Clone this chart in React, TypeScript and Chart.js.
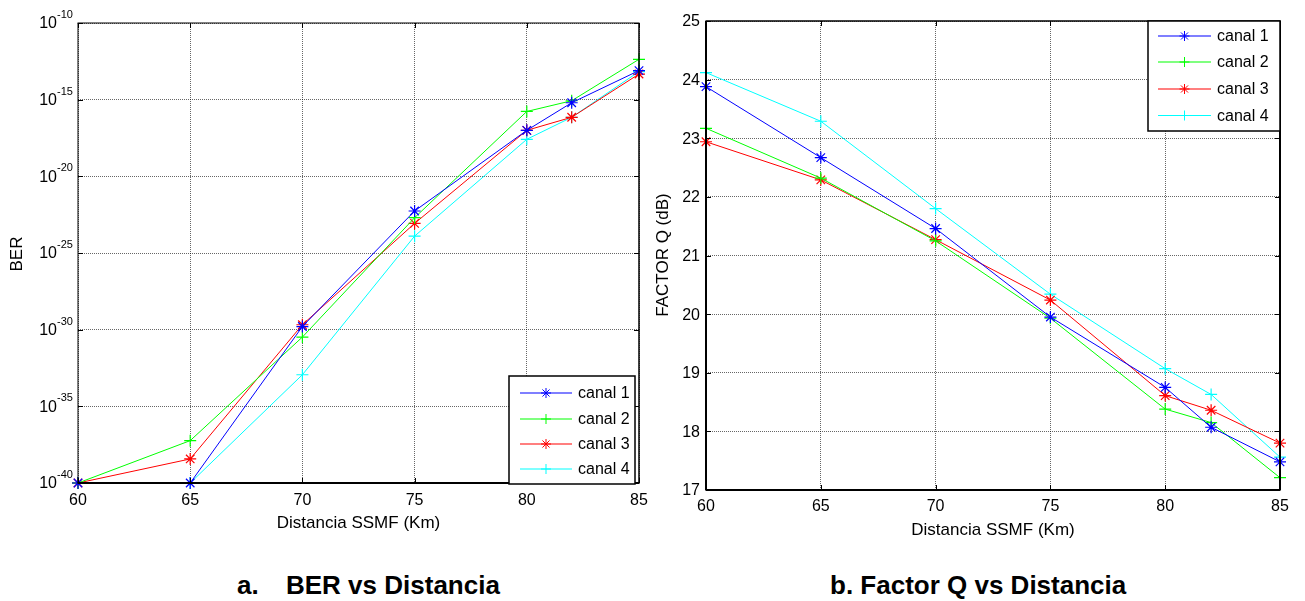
import React, { useEffect, useRef } from "react";
import { Chart, registerables } from "chart.js";

Chart.register(...registerables);

// ---------- data ----------
const DIST = [60, 65, 70, 75, 80, 82, 85];
const X_TICKS = [60, 65, 70, 75, 80, 85];
const CHANNELS = ["canal 1", "canal 2", "canal 3", "canal 4"];
const COLORS = ["#0000ff", "#00ff00", "#ff0000", "#00ffff"];
const MARKERS = ["star", "cross", "star", "cross"];

const BER_C1 = [1e-40, 1e-40, 1.6e-30, 5.5e-23, 1.0e-17, 6.3e-16, 7.9e-14];
const BER_C2 = [1e-40, 5.8e-38, 3.3e-31, 2.0e-23, 1.7e-16, 8.5e-16, 4.3e-13];
const BER_C3 = [1e-40, 3.7e-39, 2.1e-30, 8.5e-24, 1.0e-17, 7.1e-17, 4.7e-14];
const BER_C4 = [1e-40, 1e-40, 1.15e-33, 1.26e-24, 2.6e-18, 7.1e-17, 6.8e-14];
const BER_TICKS = [1e-40, 1e-35, 1e-30, 1e-25, 1e-20, 1e-15, 1e-10];
const BER_TICK_EXP = ["-40", "-35", "-30", "-25", "-20", "-15", "-10"];

const Q_C1 = [23.88, 22.67, 21.46, 19.95, 18.75, 18.07, 17.48];
const Q_C2 = [23.17, 22.32, 21.25, 19.93, 18.38, 18.15, 17.21];
const Q_C3 = [22.94, 22.29, 21.27, 20.24, 18.61, 18.36, 17.8];
const Q_C4 = [24.12, 23.29, 21.8, 20.34, 19.07, 18.63, 17.56];
const Q_TICKS = [17, 18, 19, 20, 21, 22, 23, 24, 25];

const FONT = '"Liberation Sans", Arial, sans-serif';
const GRID = "rgba(0,0,0,0.6)";

type Spec = {
  w: number;
  h: number;
  area: { l: number; t: number; r: number; b: number };
  series: number[][];
  yType: "logarithmic" | "linear";
  yMin: number;
  yMax: number;
  yTicks: number[];
  yTickDraw: (ctx: CanvasRenderingContext2D, v: number, i: number, y: number, l: number) => void;
  yLabel: string;
  yLabelX: number;
  yLabelY: number;
  xTickY: number;
  xLabelY: number;
  legend: { x1: number; y1: number; x2: number; y2: number; rows: number[]; lx1: number; lx2: number; tx: number };
  bw: { top: number; bottom: number; left: number; right: number };
};

function drawMarker(ctx: CanvasRenderingContext2D, kind: string, x: number, y: number, r: number) {
  ctx.beginPath();
  ctx.moveTo(x - r, y);
  ctx.lineTo(x + r, y);
  ctx.moveTo(x, y - r);
  ctx.lineTo(x, y + r);
  if (kind === "star") {
    const d = r * 0.7071;
    ctx.moveTo(x - d, y - d);
    ctx.lineTo(x + d, y + d);
    ctx.moveTo(x - d, y + d);
    ctx.lineTo(x + d, y - d);
  }
  ctx.stroke();
}

function build(canvas: HTMLCanvasElement, s: Spec) {
  const decor = {
    id: "matlabDecor",
    afterDraw(chart: any) {
      const ctx: CanvasRenderingContext2D = chart.ctx;
      const a = chart.chartArea;
      const xS = chart.scales.x;
      const yS = chart.scales.y;
      ctx.save();
      // inward ticks
      ctx.strokeStyle = "#000";
      ctx.lineWidth = 1;
      ctx.beginPath();
      X_TICKS.forEach((v) => {
        const x = Math.round(xS.getPixelForValue(v)) + 0.5;
        ctx.moveTo(x, a.bottom);
        ctx.lineTo(x, a.bottom - 5);
        ctx.moveTo(x, a.top);
        ctx.lineTo(x, a.top + 5);
      });
      s.yTicks.forEach((v) => {
        const y = Math.round(yS.getPixelForValue(v)) + 0.5;
        ctx.moveTo(a.left, y);
        ctx.lineTo(a.left + 5, y);
        ctx.moveTo(a.right, y);
        ctx.lineTo(a.right - 5, y);
      });
      ctx.stroke();
      // box
      const seg = (x1: number, y1: number, x2: number, y2: number, w: number) => {
        ctx.lineWidth = w;
        ctx.beginPath();
        ctx.moveTo(x1, y1);
        ctx.lineTo(x2, y2);
        ctx.stroke();
      };
      seg(a.left - 0.5, a.top, a.right + 0.5, a.top, s.bw.top);
      seg(a.left - 0.5, a.bottom, a.right + 0.5, a.bottom, s.bw.bottom);
      seg(a.left, a.top, a.left, a.bottom, s.bw.left);
      seg(a.right, a.top, a.right, a.bottom, s.bw.right);

      // tick labels
      ctx.fillStyle = "#000";
      ctx.font = `16px ${FONT}`;
      ctx.textAlign = "center";
      ctx.textBaseline = "middle";
      X_TICKS.forEach((v) => {
        ctx.fillText(String(v), xS.getPixelForValue(v), s.xTickY);
      });
      s.yTicks.forEach((v, i) => s.yTickDraw(ctx, v, i, yS.getPixelForValue(v), a.left));

      // axis titles
      ctx.font = `17px ${FONT}`;
      ctx.textAlign = "center";
      ctx.textBaseline = "middle";
      ctx.fillText("Distancia SSMF (Km)", (a.left + a.right) / 2, s.xLabelY);
      ctx.save();
      ctx.translate(s.yLabelX, s.yLabelY);
      ctx.rotate(-Math.PI / 2);
      ctx.fillText(s.yLabel, 0, 0);
      ctx.restore();

      // legend
      const L = s.legend;
      ctx.fillStyle = "#fff";
      ctx.fillRect(L.x1, L.y1, L.x2 - L.x1, L.y2 - L.y1);
      ctx.strokeStyle = "#000";
      ctx.lineWidth = 1.5;
      ctx.strokeRect(L.x1, L.y1, L.x2 - L.x1, L.y2 - L.y1);
      ctx.font = `16px ${FONT}`;
      ctx.textAlign = "left";
      ctx.textBaseline = "middle";
      CHANNELS.forEach((name, i) => {
        const y = L.rows[i];
        ctx.strokeStyle = COLORS[i];
        ctx.lineWidth = 1.2;
        ctx.beginPath();
        ctx.moveTo(L.lx1, y);
        ctx.lineTo(L.lx2, y);
        ctx.stroke();
        ctx.lineWidth = 1;
        drawMarker(ctx, MARKERS[i], (L.lx1 + L.lx2) / 2, y, 5);
        ctx.fillStyle = "#000";
        ctx.fillText(name, L.tx, y + 1);
      });
      ctx.restore();
    },
  };

  return new Chart(canvas, {
    type: "line",
    data: {
      datasets: s.series.map((vals, i) => ({
        label: CHANNELS[i],
        data: DIST.map((x, j) => ({ x, y: vals[j] })),
        borderColor: COLORS[i],
        backgroundColor: COLORS[i],
        pointBorderColor: COLORS[i],
        pointStyle: MARKERS[i] as any,
        pointRadius: 6,
        pointBorderWidth: 1.2,
        borderWidth: 1,
        tension: 0,
        clip: false as any,
      })),
    },
    options: {
      animation: false,
      responsive: false,
      devicePixelRatio: 1,
      layout: { padding: { left: 0, top: s.area.t, right: s.w - s.area.r, bottom: 0 } },
      plugins: { legend: { display: false }, tooltip: { enabled: false } },
      scales: {
        x: {
          type: "linear",
          min: 60,
          max: 85,
          afterBuildTicks: (sc: any) => {
            sc.ticks = X_TICKS.map((v) => ({ value: v }));
          },
          afterFit: (sc: any) => {
            sc.height = s.h - s.area.b;
          },
          ticks: { display: false },
          grid: { color: GRID, lineWidth: 1, drawTicks: false },
          border: { display: false, dash: [1, 1] },
        },
        y: {
          type: s.yType,
          min: s.yMin,
          max: s.yMax,
          afterBuildTicks: (sc: any) => {
            sc.ticks = s.yTicks.map((v) => ({ value: v }));
          },
          afterFit: (sc: any) => {
            sc.width = s.area.l;
          },
          ticks: { display: false },
          grid: { color: GRID, lineWidth: 1, drawTicks: false },
          border: { display: false, dash: [1, 1] },
        },
      } as any,
    },
    plugins: [decor],
  } as any);
}

const berTick = (ctx: CanvasRenderingContext2D, v: number, i: number, y: number, l: number) => {
  ctx.fillStyle = "#000";
  ctx.textBaseline = "middle";
  ctx.textAlign = "right";
  ctx.font = `16px ${FONT}`;
  ctx.fillText("10", l - 21, y + 1);
  ctx.textAlign = "left";
  ctx.font = `11px ${FONT}`;
  ctx.fillText(BER_TICK_EXP[i], l - 21, y - 8);
};

const qTick = (ctx: CanvasRenderingContext2D, v: number, i: number, y: number, l: number) => {
  ctx.fillStyle = "#000";
  ctx.textBaseline = "middle";
  ctx.textAlign = "right";
  ctx.font = `16px ${FONT}`;
  ctx.fillText(String(v), l - 6, y + 1);
};

export default function App() {
  const leftRef = useRef<HTMLCanvasElement>(null);
  const rightRef = useRef<HTMLCanvasElement>(null);

  useEffect(() => {
    const c1 = build(leftRef.current!, {
      w: 650,
      h: 545,
      area: { l: 78, t: 23, r: 639, b: 483 },
      series: [BER_C1, BER_C2, BER_C3, BER_C4],
      yType: "logarithmic",
      yMin: 1e-40,
      yMax: 1e-10,
      yTicks: BER_TICKS,
      yTickDraw: berTick,
      yLabel: "BER",
      yLabelX: 17.5,
      yLabelY: 254,
      xTickY: 501,
      xLabelY: 523,
      legend: { x1: 509, y1: 376, x2: 635, y2: 484, rows: [393, 419, 444, 469], lx1: 520, lx2: 572, tx: 578 },
      bw: { top: 1, bottom: 2, left: 1, right: 1.5 },
    });
    const c2 = build(rightRef.current!, {
      w: 655,
      h: 545,
      area: { l: 56, t: 21, r: 630, b: 490 },
      series: [Q_C1, Q_C2, Q_C3, Q_C4],
      yType: "linear",
      yMin: 17,
      yMax: 25,
      yTicks: Q_TICKS,
      yTickDraw: qTick,
      yLabel: "FACTOR Q (dB)",
      yLabelX: 13,
      yLabelY: 255,
      xTickY: 507,
      xLabelY: 530,
      legend: { x1: 498, y1: 21, x2: 630, y2: 131, rows: [36, 62, 89, 115.5], lx1: 508, lx2: 561, tx: 567 },
      bw: { top: 1.5, bottom: 2, left: 2, right: 2 },
    });
    return () => {
      c1.destroy();
      c2.destroy();
    };
  }, []);

  const titleStyle: React.CSSProperties = {
    position: "absolute",
    top: 571,
    font: `bold 26px ${FONT}`,
    lineHeight: "28px",
    color: "#000",
    whiteSpace: "pre",
  };

  return (
    <div style={{ position: "fixed", left: 0, top: 0, width: 1305, height: 601, background: "#fff", overflow: "hidden" }}>
      <canvas ref={leftRef} width={650} height={545} style={{ position: "absolute", left: 0, top: 0 }} />
      <canvas ref={rightRef} width={655} height={545} style={{ position: "absolute", left: 650, top: 0 }} />
      <div style={{ ...titleStyle, left: 237 }}>a.</div>
      <div style={{ ...titleStyle, left: 286 }}>BER vs Distancia</div>
      <div style={{ ...titleStyle, left: 830 }}>b. Factor Q vs Distancia</div>
    </div>
  );
}
